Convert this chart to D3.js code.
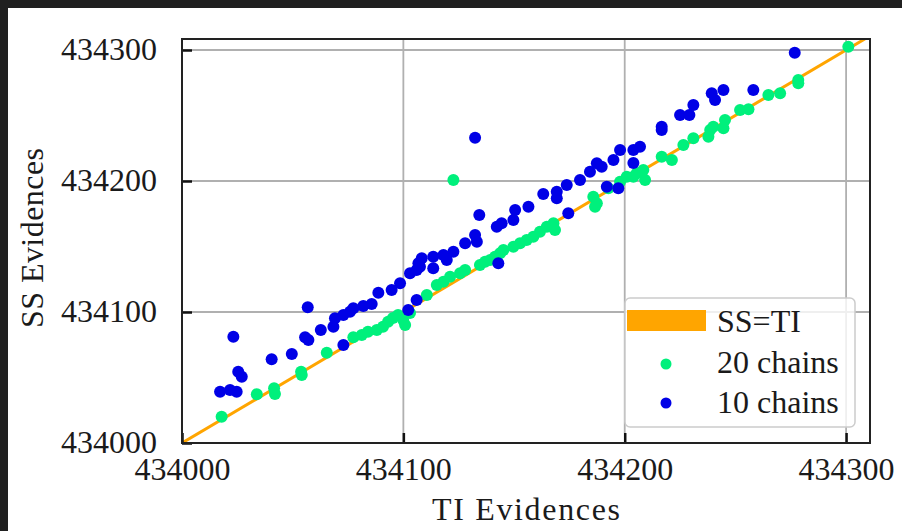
<!DOCTYPE html>
<html>
<head>
<meta charset="utf-8">
<script src="https://cdn.jsdelivr.net/npm/d3@7"></script>
<style>
  html, body { margin: 0; padding: 0; background: #202020; }
  svg { display: block; }
</style>
</head>
<body>
<script>
// Evidence estimates: thermodynamic integration (TI) vs stepping stone (SS)
const ticks = [434000, 434100, 434200, 434300];

// 20 chains
const ti20 = [434017.9, 434033.8, 434041.6, 434042.0, 434053.8, 434054.1, 434065.4, 434077.4, 434081.2, 434084.0,
  434088.0, 434090.8, 434093.1, 434095.3, 434097.6, 434099.9, 434100.8, 434103.0, 434110.6, 434115.1,
  434118.1, 434121.1, 434125.6, 434127.9, 434134.6, 434136.9, 434139.2, 434141.4, 434143.7, 434145.2,
  434149.7, 434152.7, 434155.7, 434158.7, 434161.7, 434164.8, 434167.8, 434168.5, 434185.8, 434187.4,
  434186.6, 434192.6, 434197.9, 434203.9, 434208.4, 434209.2, 434200.9, 434205.4, 434216.7, 434221.3,
  434226.5, 434231.0, 434237.8, 434238.6, 434240.0, 434244.6, 434245.3, 434252.1, 434255.9, 434264.9,
  434270.2, 434278.4, 434278.4, 434301.0, 434122.6];
const ss20 = [434020.1, 434037.2, 434041.8, 434037.4, 434054.4, 434051.9, 434068.9, 434080.7, 434082.4, 434085.0,
  434086.3, 434088.8, 434092.6, 434095.4, 434097.7, 434093.9, 434090.1, 434099.2, 434113.0, 434120.6,
  434123.1, 434126.9, 434129.5, 434132.1, 434135.9, 434138.4, 434139.7, 434142.2, 434144.8, 434147.3,
  434149.8, 434152.4, 434155.0, 434157.5, 434161.3, 434165.1, 434167.7, 434162.6, 434188.0, 434183.0,
  434180.4, 434194.4, 434199.5, 434203.3, 434208.4, 434200.8, 434203.3, 434205.9, 434218.5, 434216.0,
  434227.5, 434232.6, 434233.8, 434238.9, 434241.5, 434240.2, 434246.6, 434254.2, 434254.7, 434265.6,
  434266.9, 434277.1, 434274.6, 434302.5, 434200.8];

// 10 chains
const ti10 = [434017.2, 434021.7, 434024.7, 434023.2, 434025.4, 434027.0, 434040.5, 434049.6, 434056.8, 434055.6,
  434057.1, 434062.7, 434068.4, 434069.1, 434072.9, 434072.9, 434075.9, 434077.4, 434081.9, 434085.7,
  434088.7, 434094.7, 434098.5, 434103.0, 434106.8, 434108.3, 434106.0, 434102.2, 434106.0, 434107.5,
  434113.5, 434113.5, 434118.1, 434119.6, 434122.6, 434127.9, 434132.4, 434133.2, 434132.4, 434134.3,
  434142.2, 434144.4, 434149.7, 434150.5, 434156.5, 434163.2, 434169.3, 434169.3, 434173.8, 434179.8,
  434184.3, 434187.4, 434189.6, 434194.9, 434197.9, 434203.9, 434206.9, 434203.9, 434174.5, 434197.1,
  434191.9, 434216.7, 434216.7, 434225.0, 434229.2, 434231.0, 434239.3, 434240.8, 434244.6, 434258.1,
  434276.8, 434142.9];
const ss10 = [434039.2, 434040.5, 434039.2, 434081.1, 434054.4, 434050.6, 434063.9, 434067.9, 434103.6, 434080.7,
  434078.6, 434086.3, 434088.8, 434095.2, 434074.8, 434097.7, 434100.2, 434102.8, 434104.6, 434106.1,
  434114.7, 434116.8, 434121.9, 434129.5, 434137.2, 434141.0, 434109.2, 434101.5, 434132.1, 434134.6,
  434142.2, 434133.4, 434143.5, 434139.7, 434146.0, 434152.4, 434158.8, 434153.7, 434233.1, 434174.0,
  434165.1, 434167.7, 434170.2, 434177.9, 434180.4, 434190.1, 434191.8, 434186.8, 434196.9, 434200.8,
  434207.1, 434213.5, 434210.9, 434216.0, 434223.7, 434223.7, 434226.2, 434213.7, 434175.3, 434194.4,
  434195.6, 434241.5, 434238.9, 434250.4, 434250.4, 434258.0, 434266.9, 434261.8, 434269.5, 434269.5,
  434297.9, 434137.2];

const legendLabels = ["SS=TI", "20 chains", "10 chains"];
const colors = { line: "#ffa500", c20: "#00f07c", c10: "#0000e6" };

const W = 902, H = 531;
const font = "'Liberation Serif', 'Times New Roman', serif";
const plot = { left: 182, right: 870, top: 39, bottom: 443 };

const svg = d3.select("body").append("svg").attr("width", W).attr("height", H);

// white figure area on the dark page
svg.append("rect").attr("x", 8).attr("y", 8).attr("width", W - 8).attr("height", H - 8).attr("fill", "#ffffff");

const x = d3.scaleLinear().domain([434000, 434310.8]).range([plot.left, plot.right]);
const y = d3.scaleLinear().domain([434000, 434308.4]).range([plot.bottom, plot.top]);

svg.append("clipPath").attr("id", "clip").append("rect")
  .attr("x", plot.left).attr("y", plot.top)
  .attr("width", plot.right - plot.left).attr("height", plot.bottom - plot.top);

// grid
const grid = svg.append("g");
grid.selectAll("line.v").data(ticks).join("line")
  .attr("x1", d => x(d)).attr("x2", d => x(d))
  .attr("y1", plot.top).attr("y2", plot.bottom)
  .attr("stroke", "#b0b0b0").attr("stroke-width", 1.8);
grid.selectAll("line.h").data(ticks).join("line")
  .attr("y1", d => y(d)).attr("y2", d => y(d))
  .attr("x1", plot.left).attr("x2", plot.right)
  .attr("stroke", "#b0b0b0").attr("stroke-width", 1.8);

const data = svg.append("g").attr("clip-path", "url(#clip)");

// identity line SS = TI
data.append("line")
  .attr("x1", x(434000)).attr("y1", y(434000))
  .attr("x2", x(434320)).attr("y2", y(434320))
  .attr("stroke", colors.line).attr("stroke-width", 3);

data.append("g").selectAll("circle").data(ti20.map((t, i) => [t, ss20[i]])).join("circle")
  .attr("cx", d => x(d[0])).attr("cy", d => y(d[1])).attr("r", 6)
  .attr("fill", colors.c20);

data.append("g").selectAll("circle").data(ti10.map((t, i) => [t, ss10[i]])).join("circle")
  .attr("cx", d => x(d[0])).attr("cy", d => y(d[1])).attr("r", 6)
  .attr("fill", colors.c10);

// axes with inward ticks on left and bottom
const xAxis = svg.append("g").attr("transform", `translate(0,${plot.bottom})`)
  .call(d3.axisBottom(x).tickValues(ticks).tickFormat(d3.format("d")).tickSizeInner(-10).tickSizeOuter(0).tickPadding(19));
const yAxis = svg.append("g").attr("transform", `translate(${plot.left},0)`)
  .call(d3.axisLeft(y).tickValues(ticks).tickFormat(d3.format("d")).tickSizeInner(-10).tickSizeOuter(0).tickPadding(25));
[xAxis, yAxis].forEach(g => {
  g.select(".domain").remove();
  g.selectAll(".tick line").attr("stroke", "#111").attr("stroke-width", 2.5);
  g.selectAll(".tick text").attr("font-family", font).attr("font-size", 32).attr("fill", "#1a1a1a");
});
xAxis.selectAll(".tick text").attr("dy", "0.55em");
yAxis.selectAll(".tick text").attr("dy", "0.3em");

// frame
svg.append("rect")
  .attr("x", plot.left).attr("y", plot.top)
  .attr("width", plot.right - plot.left).attr("height", plot.bottom - plot.top)
  .attr("fill", "none").attr("stroke", "#222").attr("stroke-width", 2);

// axis titles
svg.append("text").text("TI Evidences")
  .attr("x", (plot.left + plot.right) / 2).attr("y", 520)
  .attr("text-anchor", "middle").attr("font-family", font).attr("font-size", 32)
  .attr("textLength", 188).attr("fill", "#1a1a1a");
svg.append("text").text("SS Evidences")
  .attr("transform", "translate(43,238) rotate(-90)")
  .attr("text-anchor", "middle").attr("font-family", font).attr("font-size", 32)
  .attr("textLength", 180).attr("fill", "#1a1a1a");

// legend
const lg = svg.append("g");
lg.append("rect").attr("x", 625).attr("y", 298).attr("width", 230).attr("height", 129).attr("rx", 5)
  .attr("fill", "#ffffff").attr("fill-opacity", 0.8).attr("stroke", "#cccccc").attr("stroke-width", 1.5);
lg.append("rect").attr("x", 627).attr("y", 310).attr("width", 79).attr("height", 21).attr("fill", colors.line);
lg.append("circle").attr("cx", 666).attr("cy", 364).attr("r", 5.5).attr("fill", colors.c20);
lg.append("circle").attr("cx", 666).attr("cy", 403).attr("r", 5.5).attr("fill", colors.c10);
lg.selectAll("text").data(legendLabels).join("text")
  .text(d => d)
  .attr("x", 717).attr("y", (d, i) => 332 + i * 40.5)
  .attr("font-family", font).attr("font-size", 32).attr("fill", "#1a1a1a");
</script>
</body>
</html>
